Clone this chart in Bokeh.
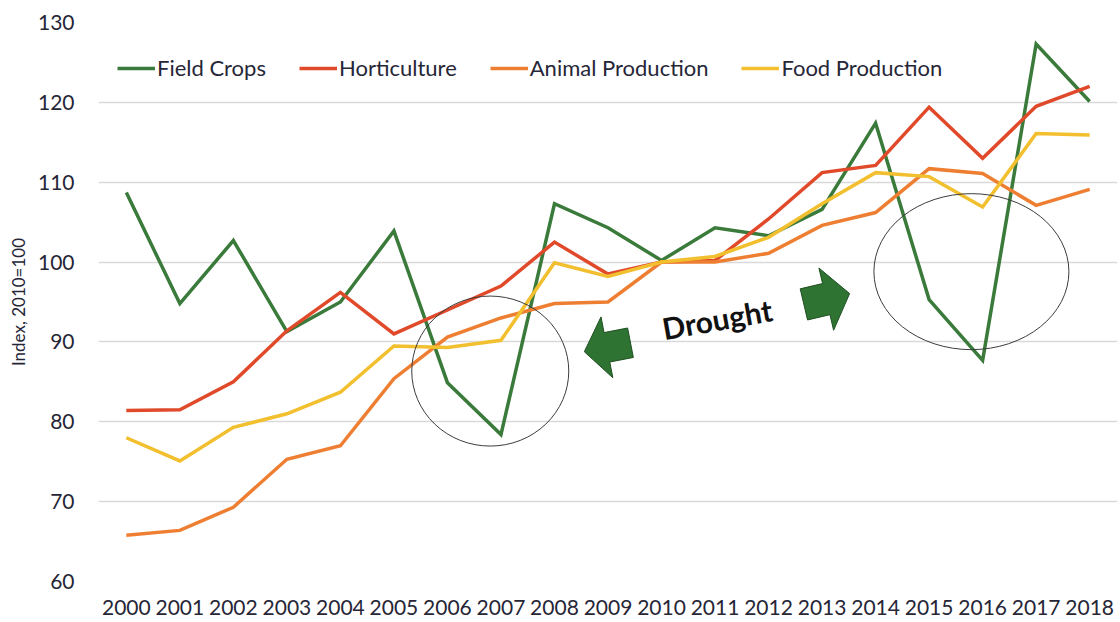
import math
from bokeh.plotting import figure
from bokeh.models import Legend, LegendItem, FixedTicker, Range1d
from bokeh.embed import file_html
from bokeh.resources import INLINE
from bokeh.core.properties import value

# ---------------- data ----------------
years = list(range(2000, 2019))
field_crops = [108.7, 94.8, 102.7, 91.3, 95.0, 103.9, 84.9, 78.4, 107.3, 104.3,
               100.2, 104.3, 103.3, 106.6, 117.4, 95.3, 87.7, 127.3, 120.1]
horticulture = [81.4, 81.5, 85.0, 91.4, 96.2, 91.0, 94.0, 97.0, 102.5, 98.5,
                100.0, 100.2, 105.4, 111.2, 112.1, 119.4, 113.0, 119.5, 122.0]
animal_production = [65.8, 66.4, 69.3, 75.3, 77.0, 85.4, 90.6, 93.0, 94.8, 95.0,
                     100.0, 100.0, 101.1, 104.6, 106.2, 111.7, 111.1, 107.1, 109.1]
food_production = [78.0, 75.1, 79.3, 81.0, 83.7, 89.5, 89.3, 90.2, 99.9, 98.2,
                   100.0, 100.7, 103.1, 107.3, 111.2, 110.7, 106.9, 116.1, 115.9]
series_names = ["Field Crops", "Horticulture", "Animal Production", "Food Production"]
series_colors = ["#3a7a3a", "#e04a2a", "#ee7f32", "#f2bf2e"]
y_ticks = [60, 70, 80, 90, 100, 110, 120, 130]
y_label = "Index, 2010=100"
annotation_text = "Drought"

# ---------------- layout ----------------
W, H = 1120, 622
LEFT, RIGHT, TOP, BOTTOM = 98, 3, 22, 41
X0, X1 = 1999.48, 2018.52
Y0, Y1 = 60, 130
FONT = "Lato"
TXT = "#262637"

p = figure(width=W, height=H, output_backend="svg", toolbar_location=None,
           x_range=Range1d(X0, X1), y_range=Range1d(Y0, Y1),
           min_border_left=LEFT, min_border_right=RIGHT,
           min_border_top=TOP, min_border_bottom=BOTTOM)
p.outline_line_color = None
p.background_fill_color = "white"

# axes
p.xaxis.ticker = FixedTicker(ticks=years)
p.yaxis.ticker = FixedTicker(ticks=y_ticks)
for ax in (p.xaxis[0], p.yaxis[0]):
    ax.axis_line_color = None
    ax.major_tick_line_color = None
    ax.minor_tick_line_color = None
    ax.major_label_text_font = FONT
    ax.major_label_text_font_size = "21px"
    ax.major_label_text_color = TXT
p.xaxis.major_label_standoff = 12
p.yaxis.major_label_standoff = 18
p.yaxis.axis_label = y_label
p.yaxis.axis_label_text_font = FONT
p.yaxis.axis_label_text_font_size = "17px"
p.yaxis.axis_label_text_font_style = "normal"
p.yaxis.axis_label_text_color = TXT
p.yaxis.axis_label_standoff = 6

p.xgrid.grid_line_color = None
p.ygrid.grid_line_color = "#d9d9d9"
p.ygrid.grid_line_width = 1.5

# lines
all_series = [field_crops, horticulture, animal_production, food_production]
renderers = []
for name, vals, col in zip(series_names, all_series, series_colors):
    r = p.line(years, vals, line_color=col, line_width=3.5, line_join="miter")
    renderers.append(r)

# ---------------- annotations ----------------
fw = W - LEFT - RIGHT
fh = H - TOP - BOTTOM
ppx = fw / (X1 - X0)     # pixels per year
ppy = fh / (Y1 - Y0)     # pixels per index unit

# drought ellipses (centre in data coords, size in screen px)
ellipse_x = [2006.80, 2015.79]
ellipse_y = [86.35, 98.8]
ellipse_w = [157, 195]
ellipse_h = [150, 156]
p.ellipse(x=ellipse_x, y=ellipse_y, width=ellipse_w, height=ellipse_h,
          width_units="screen", height_units="screen",
          fill_alpha=0, line_color="#3c3c3c", line_width=1)

# block arrows: tail (data coords), direction (deg), length, body/head widths (px)
arrow_tail_x = [2009.42, 2012.66]
arrow_tail_y = [89.9, 94.7]
arrow_angle = [191.0, 13.3]
arrow_len = [47, 47]
arrow_body = [30, 32]
arrow_head = [62, 64]
arrow_head_len = [23, 24]

xs_all, ys_all = [], []
for tx, ty, ang, L, bw, hw, hl in zip(arrow_tail_x, arrow_tail_y, arrow_angle,
                                      arrow_len, arrow_body, arrow_head, arrow_head_len):
    local = [(0, -bw / 2), (L - hl, -bw / 2), (L - hl, -hw / 2), (L, 0),
             (L - hl, hw / 2), (L - hl, bw / 2), (0, bw / 2)]
    a = math.radians(ang)
    xs, ys = [], []
    for u, v in local:
        dx = u * math.cos(a) - v * math.sin(a)
        dy = u * math.sin(a) + v * math.cos(a)
        xs.append(tx + dx / ppx)
        ys.append(ty + dy / ppy)
    xs_all.append(xs)
    ys_all.append(ys)
p.patches(xs_all, ys_all, fill_color="#2e7332", line_color="#1f4f22", line_width=1)

p.text(x=[2011.04], y=[92.9], text=[annotation_text], angle=math.radians(10),
       text_font=value(FONT), text_font_style="bold", text_font_size="30px",
       text_color="#111111", text_align="center", text_baseline="middle")

# legend
legend = Legend(items=[LegendItem(label=n, renderers=[r]) for n, r in zip(series_names, renderers)],
                orientation="horizontal", location=(19, 500))
legend.background_fill_alpha = 0
legend.border_line_alpha = 0
legend.padding = 0
legend.margin = 0
legend.spacing = 33
legend.glyph_width = 38
legend.glyph_height = 20
legend.label_standoff = 2
legend.label_text_font = FONT
legend.label_text_font_size = "22px"
legend.label_text_color = TXT
p.add_layout(legend, "center")

open("out.html", "w").write(file_html(p, INLINE))
